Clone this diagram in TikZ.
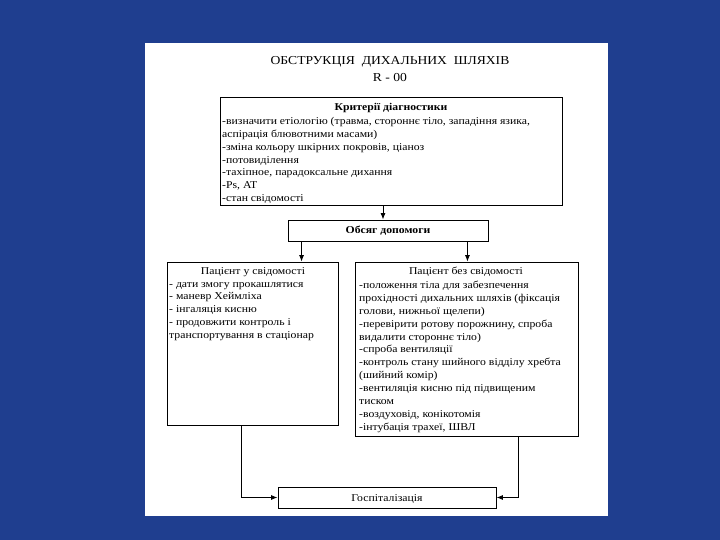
\documentclass[tikz,border=0pt]{standalone}
\usepackage{fontspec}
\setmainfont[FakeStretch=1.12]{Liberation Serif}
\usetikzlibrary{arrows.meta}
\definecolor{slideblue}{RGB}{31,62,143}
\tikzset{
  box/.style={draw, line width=0.9bp, inner sep=0pt},
  txt/.style={inner sep=0pt, align=left, font=\fontsize{10.5}{12.9}\selectfont},
  head/.style={inner sep=0pt, font=\fontsize{10.5}{12.9}\selectfont},
  onerow/.style={text height=7bp, text depth=0bp},
  arr/.style={-{Latex[length=6.5bp,width=5bp]}, line width=0.8bp}
}
\begin{document}
\begin{tikzpicture}[x=1bp,y=-1bp]
    \fill[slideblue] (0,0) rectangle (720,540);
    \fill[white] (145,43) rectangle (608,516);
    \useasboundingbox (0,0) rectangle (720,540);
    % title
    \node[font=\fontsize{12.2}{13}\selectfont] (title) at (390,62) {ОБСТРУКЦІЯ\ \ ДИХАЛЬНИХ\ \ ШЛЯХІВ};
    \node[font=\fontsize{12.2}{13}\selectfont] (code) at (390,78) {R - 00};
    % boxes
    \node[box, minimum width=200bp, minimum height=21bp, head, onerow] (obs) at (388,230.5) {\textbf{Обсяг допомоги}};
    \node[box, minimum width=342bp, minimum height=108bp] (crit) at (391,151) {};
    \node[box, minimum width=171bp, minimum height=163bp] (cons) at (252.5,343.5) {};
    \node[box, minimum width=223bp, minimum height=174bp] (uncons) at (466.5,349) {};
    \node[box, minimum width=218bp, minimum height=21bp, head, onerow] (hosp) at (387,497.5) {Госпіталізація};
    % texts in boxes
    \node[head] (crith) at (391,108) {\textbf{Критерії діагностики}};
    \node[txt, anchor=north west] (critt) at (222,117) {-визначити етіологію (травма, стороннє тіло, западіння язика,\\
        аспірація блювотними масами)\\
        -зміна кольору шкірних покровів, ціаноз\\
        -потовиділення\\
        -тахіпное, парадоксальне дихання\\
        -Ps, AT\\
        -стан свідомості};
    \node[head] (consh) at (253,272) {Пацієнт у свідомості};
    \node[txt, anchor=north west] (const) at (169,282) {- дати змогу прокашлятися\\
        - маневр Хеймліха\\
        - інгаляція кисню\\
        - продовжити контроль і\\
        транспортування в стаціонар};
    \node[head] (unconsh) at (466,272) {Пацієнт без свідомості};
    \node[txt, anchor=north west] (uncont) at (359,281) {-положення тіла для забезпечення\\
        прохідності дихальних шляхів (фіксація\\
        голови, нижньої щелепи)\\
        -перевірити ротову порожнину, спроба\\
        видалити стороннє тіло)\\
        -спроба вентиляції\\
        -контроль стану шийного відділу хребта\\
        (шийний комір)\\
        -вентиляція кисню під підвищеним\\
        тиском\\
        -воздуховід, конікотомія\\
        -інтубація трахеї, ШВЛ};
    % arrows
    \draw[arr] ([xshift=-8bp]crit.south) -- ([xshift=-8bp]crit.south |- obs.north);
    \draw[arr] ([xshift=14bp]obs.south west) -- ([xshift=14bp]obs.south west |- cons.north);
    \draw[arr] ([xshift=-21bp]obs.south east) -- ([xshift=-21bp]obs.south east |- uncons.north);
    \draw[arr] ([xshift=75bp]cons.south west) |- (hosp.west);
    \draw[arr] ([xshift=-60bp]uncons.south east) |- (hosp.east);
\end{tikzpicture}
\end{document}
